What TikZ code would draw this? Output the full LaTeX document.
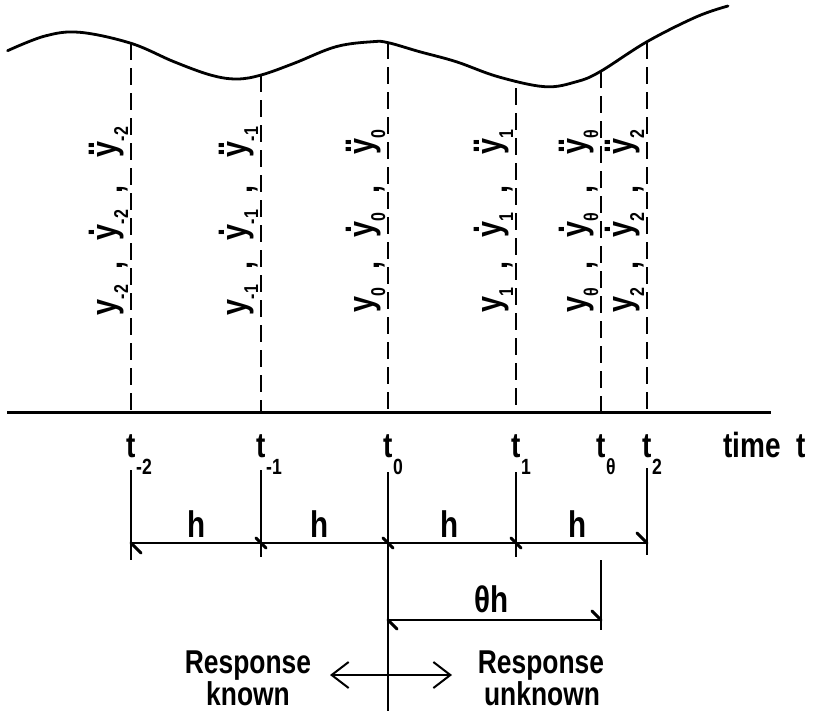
\documentclass[tikz,border=0pt]{standalone}
\usepackage{fontspec}
\setmainfont{Liberation Sans}[FakeStretch=0.8]
\usetikzlibrary{arrows.meta}
\newcommand\lsub[1]{\raisebox{-12pt}{\fontsize{20}{20}\selectfont\bfseries #1}}
\newcommand\onedot[1]{\ooalign{#1\cr\hidewidth\raisebox{0.6em}{.}\hidewidth\cr}}
\newcommand\twodot[1]{\ooalign{#1\cr\hidewidth\raisebox{0.6em}{.\kern-1pt.}\hidewidth\cr}}
\newcommand\fsz[1]{\fontsize{#1}{#1}\selectfont\bfseries}
\begin{document}
\begin{tikzpicture}[x=1pt,y=-1pt,
  curve/.style={line width=2.8pt,line cap=round},
  dline/.style={line width=2.4pt,dash pattern=on 17pt off 8pt},
  axisline/.style={line width=3pt},
  dimline/.style={line width=1.8pt},
  ext/.style={line width=1.8pt},
  tickmark/.style={line width=3pt,line cap=round},
  ylab/.style={rotate=90,anchor=base,inner sep=0pt,font=\fsz{36}},
  tlab/.style={anchor=base,inner sep=0pt,font=\fsz{35}},
  tsub/.style={anchor=base west,inner sep=0pt,font=\fsz{22}},
  hlab/.style={anchor=base,inner sep=0pt,font=\fsz{37}},
  resp/.style={anchor=base,inner sep=0pt,font=\fsz{33}},
  dblarrow/.style={line width=2pt,{Straight Barb[length=17pt,width=26pt]}-{Straight Barb[length=17pt,width=26pt]}}]
\useasboundingbox (0,0) rectangle (821,713);

% response curve
\draw[curve] plot[smooth,tension=0.6] coordinates {
 (7.6,50.7) (45,36) (79.8,32.3) (131,43.3) (173.9,61.7) (210.5,75) (236.6,79)
 (261.2,75) (294.1,63.3) (335.9,46.7) (372.5,41.7) (388.2,42.7) (419.6,51.7)
 (456.2,61.7) (498,76.7) (545,86.7) (576.4,81.7) (600,71.7) (647,41.7)
 (696.7,16.7) (728,6)};

% time axis
\coordinate (axL) at (7,412);
\coordinate (axR) at (771,412);
\draw[axisline] (axL) -- (axR);

% columns
\foreach \n/\x/\tp/\s in {m2/131/43/-2, m1/261/75/-1, z/388/42/0, o/516/88/1, th/601/71/θ, tw/647/42/2}{
  \coordinate (top\n) at (\x,\tp);
  \coordinate (bot\n) at (\x,412);
  \draw[dline] (top\n) -- (bot\n);
  \node[ylab] (y\n) at (\x-15,300) {y\lsub{\s}};
  \node[ylab] (ca\n) at (\x-9,265) {,};
  \node[ylab] (yd\n) at (\x-15,225) {\onedot{y}\lsub{\s}};
  \node[ylab] (cb\n) at (\x-9,189) {,};
  \node[ylab] (ydd\n) at (\x-15,142) {\twodot{y}\lsub{\s}};
  \node[tlab] (t\n) at (\x,457) {t};
  \node[tsub] (ts\n) at (\x+5,474) {\s};
}
\node[tlab,anchor=base west] (time) at (723,457) {time\hspace{16pt}t};

% extension lines
\coordinate (em2a) at (131,470); \coordinate (em2b) at (131,560);
\coordinate (em1a) at (261,470); \coordinate (em1b) at (261,557);
\coordinate (eza)  at (388,472); \coordinate (ezb)  at (388,711);
\coordinate (eoa)  at (516,472); \coordinate (eob)  at (516,557);
\coordinate (etwa) at (647,468); \coordinate (etwb) at (647,555);
\coordinate (etha) at (601,560); \coordinate (ethb) at (601,630);
\draw[ext] (em2a) -- (em2b);
\draw[ext] (em1a) -- (em1b);
\draw[ext] (eza) -- (ezb);
\draw[ext] (eoa) -- (eob);
\draw[ext] (etwa) -- (etwb);
\draw[ext] (etha) -- (ethb);

% dimension lines
\coordinate (hL) at (131,543); \coordinate (hR) at (647,543);
\coordinate (h1) at (261,543); \coordinate (h2) at (388,543); \coordinate (h3) at (516,543);
\coordinate (thL) at (388,620); \coordinate (thR) at (601,620);
\draw[dimline] (hL) -- (hR);
\draw[dimline] (thL) -- (thR);
\draw[tickmark] (hL) -- ++(10,10);
\foreach \c in {h1,h2,h3}{\draw[tickmark] (\c) ++(-5,-5) -- ++(10,10);}
\draw[tickmark] (hR) ++(-10,-10) -- (hR);
\draw[tickmark] (thL) -- ++(9,9);
\draw[tickmark] (thR) ++(-9,-9) -- (thR);

\node[hlab] (ha) at (197,537) {h};
\node[hlab] (hb) at (320,537) {h};
\node[hlab] (hc) at (450,537) {h};
\node[hlab] (hd) at (578,537) {h};
\node[hlab] (thh) at (492,612) {θh};

% response known / unknown
\coordinate (arL) at (330,675);
\coordinate (arR) at (452,675);
\draw[dblarrow] (arL) -- (arR);
\node[resp] (r1) at (248,673) {Response};
\node[resp] (k1) at (248,705) {known};
\node[resp] (r2) at (541,673) {Response};
\node[resp] (k2) at (542,705) {unknown};
\end{tikzpicture}
\end{document}
